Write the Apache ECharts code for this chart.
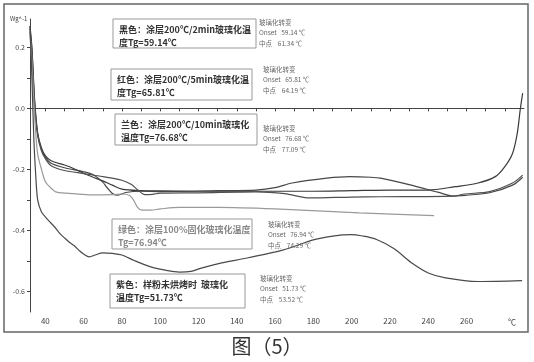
<!DOCTYPE html>
<html><head><meta charset="utf-8">
<script src="https://cdn.jsdelivr.net/npm/echarts@6/dist/echarts.min.js"></script>
<style>html,body{margin:0;padding:0;background:#fff}#c{width:534px;height:362px}</style>
</head><body><div id="c"></div>
<script>
// ---- data (temperature °C, heat flow W/g) ----
const blackT = [32,33,34.4,36,38,40,43,50,55,60,65,70,75,80,90,100,120,150,180,200,220,240,254,266,275,280,284,286.5,288,289.3];
const blackV = [0.27,0.2,0.03,-0.08,-0.13,-0.155,-0.172,-0.186,-0.198,-0.213,-0.226,-0.238,-0.252,-0.265,-0.27,-0.271,-0.272,-0.272,-0.272,-0.27,-0.268,-0.268,-0.257,-0.245,-0.224,-0.191,-0.148,-0.081,-0.006,0.05];
const redT = [32,33,34.4,36,38,40,43,50,60,65,70,72,75,78,82,90,100,130,150,160,169,187,199,210,215,230,245,253,260,272,284,289.3];
const redV = [0.26,0.19,0.02,-0.085,-0.135,-0.16,-0.18,-0.195,-0.208,-0.218,-0.242,-0.258,-0.279,-0.285,-0.276,-0.272,-0.273,-0.27,-0.268,-0.26,-0.245,-0.229,-0.224,-0.226,-0.229,-0.25,-0.275,-0.288,-0.285,-0.277,-0.252,-0.226];
const blueT = [32,33,34.4,36,38,40,43,50,60,70,80,85,88,92,96,100,120,150,165,178,200,215,253,259,272,284,289.3];
const blueV = [0.25,0.18,0.01,-0.09,-0.14,-0.165,-0.188,-0.204,-0.214,-0.224,-0.236,-0.25,-0.266,-0.283,-0.282,-0.278,-0.277,-0.274,-0.28,-0.294,-0.291,-0.29,-0.288,-0.281,-0.273,-0.245,-0.219];
const greenT = [32,33,34,35,36,38,40,43,46,55,64,75,80,84,86,88,90,95,100,110,130,160,204,243];
const greenV = [0.24,0.15,0.02,-0.08,-0.15,-0.2,-0.24,-0.262,-0.275,-0.28,-0.284,-0.283,-0.281,-0.286,-0.3,-0.323,-0.333,-0.334,-0.33,-0.325,-0.325,-0.33,-0.343,-0.352];
const purpleT = [32,33,34,35,36,38,40,42,45,47.5,50,52.7,55,58,60,63,66,70,75,80,86.7,95,102,110,116,121,130,146,164,181,195,200,205,213,222,232,240,249,266,289];
const purpleV = [0.27,0.1,-0.1,-0.22,-0.3,-0.34,-0.356,-0.37,-0.39,-0.41,-0.425,-0.44,-0.45,-0.468,-0.478,-0.487,-0.481,-0.474,-0.476,-0.481,-0.5,-0.52,-0.53,-0.537,-0.535,-0.525,-0.51,-0.49,-0.465,-0.43,-0.415,-0.414,-0.418,-0.43,-0.46,-0.51,-0.54,-0.556,-0.568,-0.565];
const xTicks = [40,50,60,70,80,90,100,110,120,130,140,150,160,170,180,190,200,210,220,230,240,250,260,270,280];
const xLabels = [40,60,80,100,120,140,160,180,200,220,240,260];
const yTicks = [0.2,0.1,0,-0.1,-0.2,-0.3,-0.4,-0.5,-0.6];
const yLabels = [0.2,0,-0.2,-0.4,-0.6];

const boxes = [
  {l1:'黑色：涂层200℃/2min玻璃化温', l2:'度Tg=59.14℃'},
  {l1:'红色：涂层200℃/5min玻璃化温', l2:'度Tg=65.81℃'},
  {l1:'兰色：涂层200℃/10min玻璃化', l2:'温度Tg=76.68℃'},
  {l1:'绿色：涂层100%固化玻璃化温度', l2:'Tg=76.94℃'},
  {l1:'紫色：样粉未烘烤时  玻璃化', l2:'温度Tg=51.73℃'}
];
const notes = [
  ['玻璃化转变','Onset   59.14 ℃','中点    61.34 ℃'],
  ['玻璃化转变','Onset   65.81 ℃','中点    64.19 ℃'],
  ['玻璃化转变','Onset   76.68 ℃','中点    77.09 ℃'],
  ['玻璃化转变','Onset   76.94 ℃','中点    74.29 ℃'],
  ['玻璃化转变','Onset   51.73 ℃','中点    53.52 ℃']
];

const zip = (a,b)=>a.map((t,i)=>[t,b[i]]);
const chart = echarts.init(document.getElementById('c'));
const FONT = '"Noto Sans CJK SC","Noto Sans",sans-serif';

// layout (positions only)
const boxPos = [[113,19,143,29],[111,69,141,31],[115,114,142,31],[112,219,140,30],[110,274,135,34]];
const boxColor = ['#333','#333','#333','#888','#333'];
const notePos = [[259,17],[263,64],[263,123],[268,219],[260,273]];

const graphic = [
  {type:'rect',shape:{x:4,y:4,width:524,height:328},style:{fill:null,stroke:'#666',lineWidth:1.5},z:0}
];
boxes.forEach((b,i)=>{
  const [x,y,w,h]=boxPos[i];
  graphic.push({type:'rect',shape:{x,y,width:w,height:h},style:{fill:'#fff',stroke:'#999',lineWidth:1},z:10});
  graphic.push({type:'text',x:x+6,y:y+4,style:{text:b.l1+'\n'+b.l2,font:'bold 9px '+FONT,fill:boxColor[i],lineHeight:13},z:11});
});
notes.forEach((n,i)=>{
  const [x,y]=notePos[i];
  graphic.push({type:'text',x,y,style:{text:n.join('\n'),font:'6.5px '+FONT,fill:'#666',lineHeight:10.5},z:11});
});
graphic.push({type:'text',x:10,y:16,style:{text:'Wg^-1',font:'6px '+FONT,fill:'#444'}});
graphic.push({type:'text',x:508,y:318,style:{text:'℃',font:'8px '+FONT,fill:'#444'}});
graphic.push({type:'text',x:267,y:346,style:{text:'图（5）',font:'20px '+FONT,fill:'#333',align:'center',verticalAlign:'middle'}});

const lineStyle = c => ({color:c,width:1.2});
const mk = (name,T,V,c)=>({name,type:'line',data:zip(T,V),showSymbol:false,symbol:'none',smooth:0.3,lineStyle:lineStyle(c),itemStyle:{color:c},z:2});

chart.setOption({
  animation:false,
  backgroundColor:'#fff',
  grid:{left:30,right:10,top:19,bottom:50},
  xAxis:{type:'value',min:32,max:290,
    axisLine:{lineStyle:{color:'#444',width:1}},
    axisTick:{customValues:xTicks,length:3,lineStyle:{color:'#444'}},
    axisLabel:{customValues:xLabels,fontSize:8,color:'#444',margin:5,fontFamily:FONT},
    splitLine:{show:false}},
  yAxis:{type:'value',min:-0.668,max:0.293,
    axisLine:{show:true,lineStyle:{color:'#444',width:1}},
    axisTick:{show:true,customValues:yTicks,length:3,lineStyle:{color:'#444'}},
    axisLabel:{customValues:yLabels,fontSize:7,color:'#444',margin:5,fontFamily:FONT,formatter:v=>v.toFixed(1)},
    splitLine:{show:false}},
  series:[
    mk('黑色',blackT,blackV,'#3a3a3a'),
    mk('红色',redT,redV,'#474747'),
    mk('兰色',blueT,blueV,'#505050'),
    mk('绿色',greenT,greenV,'#9a9a9a'),
    mk('紫色',purpleT,purpleV,'#4a4a4a')
  ],
  graphic
});
</script></body></html>
